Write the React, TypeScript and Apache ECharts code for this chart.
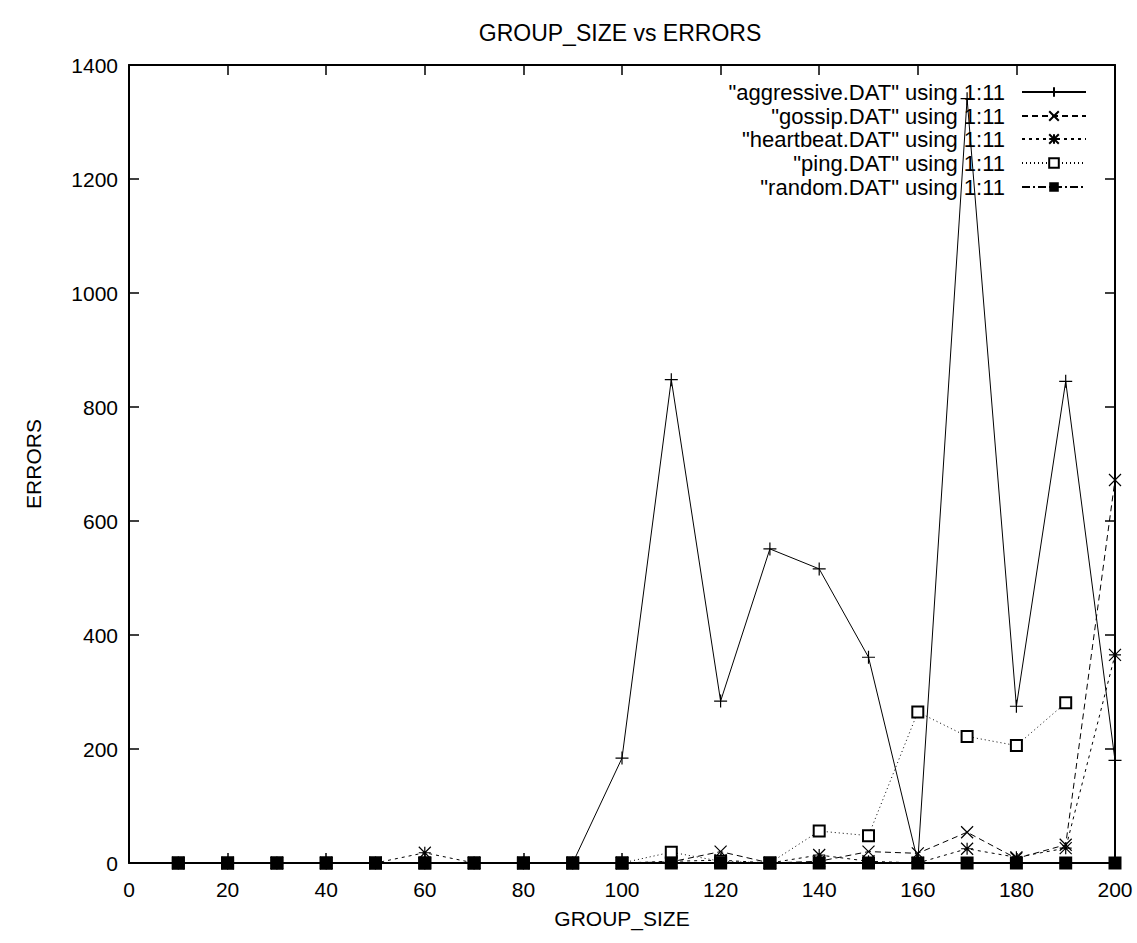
import React, { useEffect, useRef } from "react";
import * as echarts from "echarts";

const groupSizes = [10, 20, 30, 40, 50, 60, 70, 80, 90, 100, 110, 120, 130, 140, 150, 160, 170, 180, 190, 200];
const aggressive = [0, 0, 0, 0, 0, 0, 0, 0, 0, 184, 848, 284, 551, 516, 361, 3, 1341, 275, 845, 180];
const gossip = [0, 0, 0, 0, 0, 0, 0, 0, 0, 0, 2, 20, 0, 3, 20, 17, 54, 8, 32, 672];
const heartbeat = [0, 0, 0, 0, 0, 18, 0, 0, 0, 0, 3, 5, 0, 14, 3, 0, 25, 10, 26, 365];
const ping: (number | null)[] = [0, 0, 0, 0, 0, 0, 0, 0, 0, 0, 19, 3, 0, 56, 48, 265, 222, 206, 281, null];
const random = [0, 0, 0, 0, 0, 0, 0, 0, 0, 0, 0, 0, 0, 0, 0, 0, 0, 0, 0, 0];

const seriesNames = [
  '"aggressive.DAT" using 1:11',
  '"gossip.DAT" using 1:11',
  '"heartbeat.DAT" using 1:11',
  '"ping.DAT" using 1:11',
  '"random.DAT" using 1:11',
];

const FONT = "Liberation Sans, Arial, sans-serif";
const PLUS = "path://M5,0L5,10M0,5L10,5";
const CROSS = "path://M0,0L10,10M10,0L0,10";
const STAR = "path://M5,0L5,10M0,5L10,5M0,0L10,10M10,0L0,10";

function pairs(vals: (number | null)[]) {
  return groupSizes.map((x, i) => [x, vals[i]]);
}

export default function App() {
  const ref = useRef<HTMLDivElement>(null);
  useEffect(() => {
    if (!ref.current) return;
    const chart = echarts.init(ref.current, undefined, { renderer: "svg" });
    const axisLine = { show: true, onZero: false, lineStyle: { color: "#000", width: 2 } };
    const tick = { show: true, inside: true, length: 10, lineStyle: { color: "#000", width: 1.5 } };
    const label = { color: "#000", fontFamily: FONT, fontSize: 21, formatter: (v: number) => String(v) };
    const mk = (name: string, data: (number | null)[], symbol: string, size: number, lineType: any, itemStyle: any) => ({
      type: "line",
      name,
      data: pairs(data),
      symbol,
      symbolSize: size,
      showSymbol: true,
      connectNulls: false,
      lineStyle: { color: "#000", width: 1, type: lineType },
      itemStyle,
      emphasis: { disabled: true },
    });
    const strokeStyle = { color: "#000", borderColor: "#000", borderWidth: 1.2 };
    const legendTops = [81, 105, 128, 152, 176];
    chart.setOption({
      animation: false,
      backgroundColor: "#fff",
      title: {
        text: "GROUP_SIZE vs ERRORS",
        left: 615,
        textAlign: "center",
        top: 16,
        textStyle: { color: "#000", fontFamily: FONT, fontSize: 23, fontWeight: "normal" },
      },
      legend: seriesNames.map((n, i) => ({
        data: [n],
        right: 50,
        top: legendTops[i],
        align: "right",
        padding: 0,
        itemWidth: 64,
        itemHeight: 12,
        selectedMode: false,
        textStyle: { color: "#000", fontFamily: FONT, fontSize: 22, padding: [0, 12, 0, 0] },
      })),
      grid: { left: 129, right: 22, top: 65, bottom: 80, containLabel: false },
      xAxis: [
        {
          type: "value",
          min: 0,
          max: 200,
          interval: 20,
          name: "GROUP_SIZE",
          nameLocation: "middle",
          nameGap: 45,
          nameTextStyle: { color: "#000", fontFamily: FONT, fontSize: 21 },
          axisLine,
          axisTick: tick,
          axisLabel: { ...label, margin: 16 },
          splitLine: { show: false },
        },
        {
          type: "value",
          position: "top",
          min: 0,
          max: 200,
          interval: 20,
          axisLine,
          axisTick: tick,
          axisLabel: { show: false },
          splitLine: { show: false },
        },
      ],
      yAxis: [
        {
          type: "value",
          min: 0,
          max: 1400,
          interval: 200,
          name: "ERRORS",
          nameLocation: "middle",
          nameGap: 85,
          nameRotate: 90,
          nameTextStyle: { color: "#000", fontFamily: FONT, fontSize: 21 },
          axisLine,
          axisTick: tick,
          axisLabel: { ...label, margin: 11 },
          splitLine: { show: false },
        },
        {
          type: "value",
          position: "right",
          min: 0,
          max: 1400,
          interval: 200,
          axisLine,
          axisTick: tick,
          axisLabel: { show: false },
          splitLine: { show: false },
        },
      ],
      series: [
        mk(seriesNames[0], aggressive, PLUS, 13, "solid", strokeStyle),
        mk(seriesNames[1], gossip, CROSS, 12, [6, 4], strokeStyle),
        mk(seriesNames[2], heartbeat, STAR, 12, [3, 4], strokeStyle),
        mk(seriesNames[3], ping, "emptyRect", 11, [1, 3], { color: "#000", borderColor: "#000", borderWidth: 1 }),
        mk(seriesNames[4], random, "rect", 13, [8, 3, 2, 3], { color: "#000", borderColor: "#000", borderWidth: 0 }),
      ],
    });
    return () => chart.dispose();
  }, []);
  return <div ref={ref} style={{ width: 1137, height: 943, position: "absolute", left: 0, top: 0 }} />;
}
